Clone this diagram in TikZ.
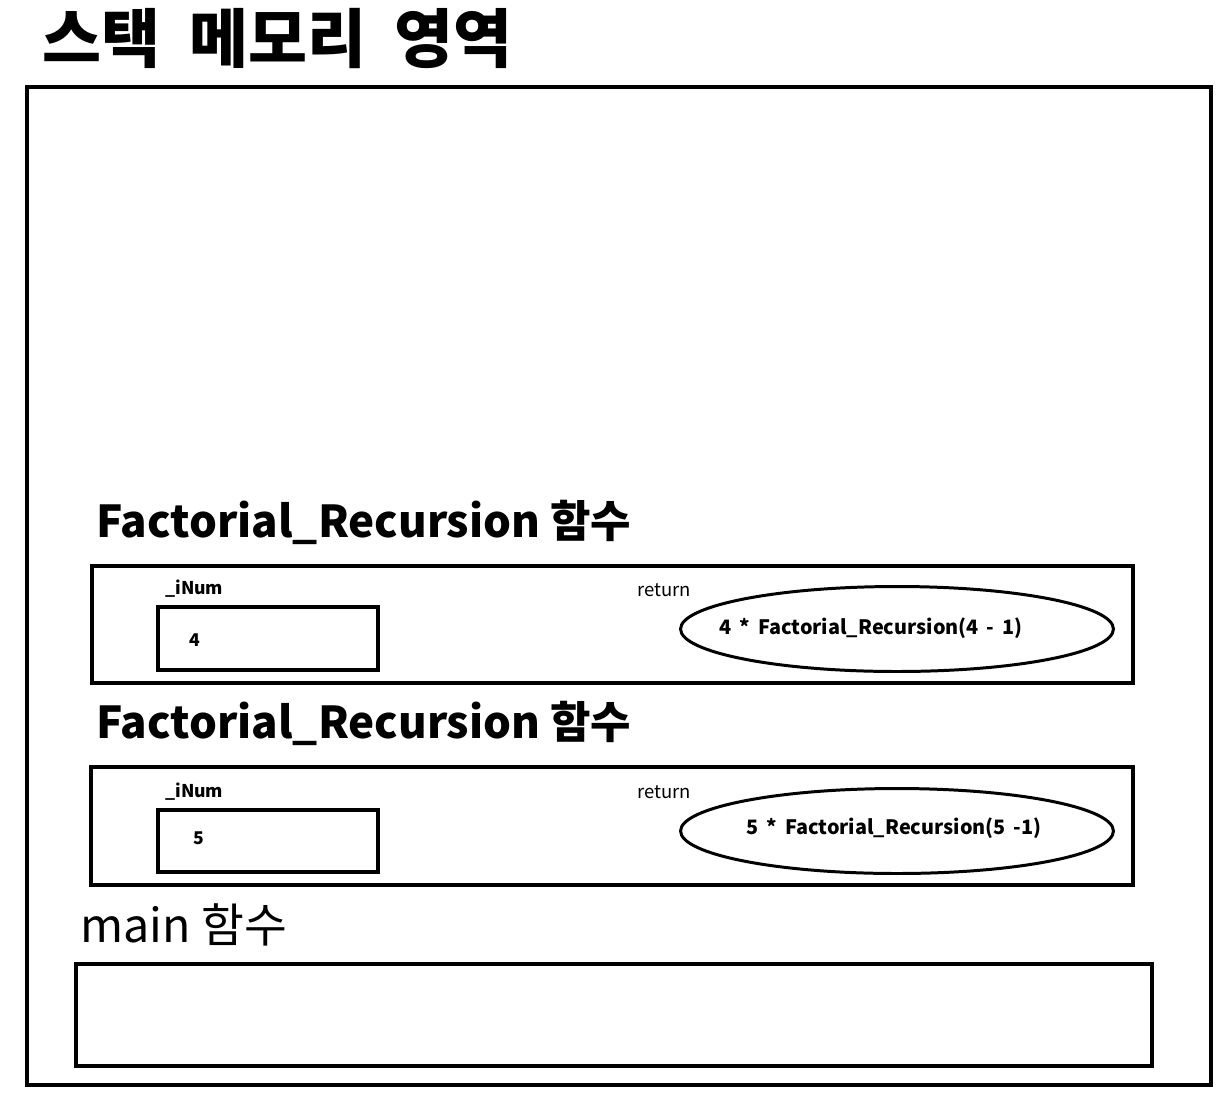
\documentclass[tikz,border=0pt]{standalone}
\usepackage{fontspec}
\usepackage{tikz}
\usetikzlibrary{shapes.geometric}
\setmainfont{Noto Sans CJK KR}
\newcommand{\gap}{\hspace{0.4em}}

\begin{document}
\begin{tikzpicture}[x=0.02cm,y=-0.02cm,
  box/.style={line width=2pt},
  label/.style={anchor=base west,inner sep=0pt},
  heading/.style={label,font=\fontsize{25}{29}\selectfont\bfseries},
  small/.style={font=\fontsize{10.5}{12}\selectfont},
  calltext/.style={font=\fontsize{11.3}{13}\selectfont\bfseries},
  retval/.style={draw,ellipse,line width=1.7pt,minimum width=8.66cm,minimum height=1.7cm}]
\useasboundingbox (0,0) rectangle (1231,1100);
\node[label,font=\fontsize{36.5}{40}\selectfont\bfseries] (title) at (42,62) {스택\hspace{0.45em}메모리\hspace{0.45em}영역};
\draw[line width=2.3pt] (27,87) rectangle (1211,1085);
% upper frame
\node[heading] (head1) at (96,537) {Factorial\_Recursion 함수};
\draw[box] (92,566) rectangle (1133,683);
\node[label,small,font=\bfseries] (var1) at (165,594) {\_iNum};
\draw[box] (158,607) rectangle (378,670);
\node[small,font=\bfseries] (val1) at (195,640) {4};
\node[label,small] (ret1) at (637,596) {return};
\node[retval] (call1) at (897,629) {};
\node[calltext] at (871,628) {4\gap*\gap Factorial\_Recursion(4\gap-\gap1)};
% lower frame
\node[heading] (head2) at (96,738) {Factorial\_Recursion 함수};
\draw[box] (91,767) rectangle (1133,885);
\node[label,small,font=\bfseries] (var2) at (165,797) {\_iNum};
\draw[box] (158,810) rectangle (378,872);
\node[small,font=\bfseries] (val2) at (199,838) {5};
\node[label,small] (ret2) at (637,798) {return};
\node[retval] (call2) at (897,831) {};
\node[calltext] at (894,828) {5\gap*\gap Factorial\_Recursion(5\gap-1)};
% main
\node[label,font=\fontsize{26.5}{30}\selectfont] (mainlbl) at (80,942) {main 함수};
\draw[box] (76,964) rectangle (1152,1066);
\end{tikzpicture}
\end{document}
